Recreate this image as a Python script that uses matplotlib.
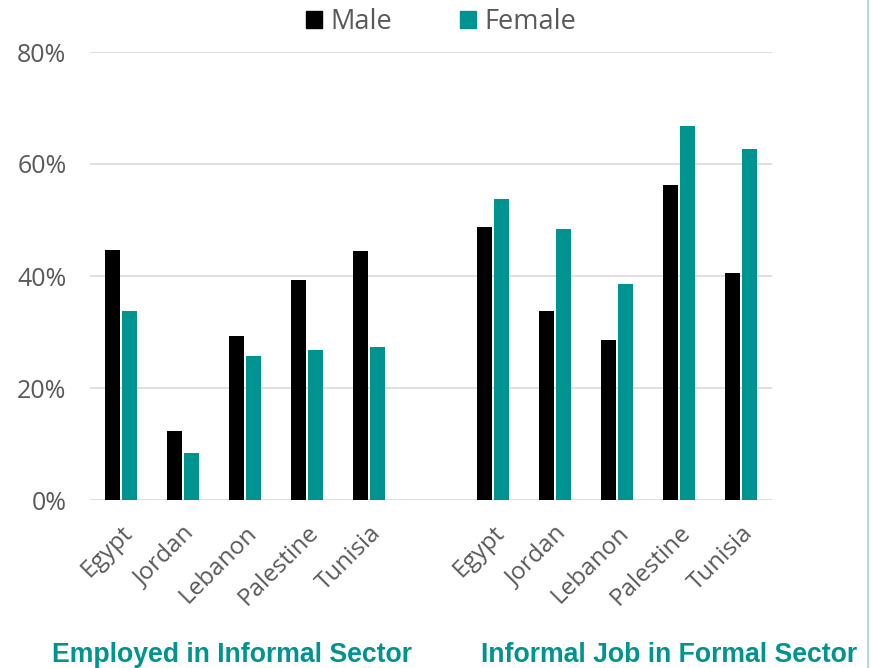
import matplotlib
matplotlib.use("Agg")
import matplotlib.pyplot as plt
from matplotlib.patches import Rectangle
from matplotlib.lines import Line2D
import numpy as np

countries = ["Egypt", "Jordan", "Lebanon", "Palestine", "Tunisia"]
groups = ["Employed in Informal Sector", "Informal Job in Formal Sector"]
male_informal_sector = [44.6, 12.3, 29.2, 39.2, 44.4]
female_informal_sector = [33.8, 8.4, 25.7, 26.7, 27.4]
male_formal_sector = [48.7, 33.8, 28.6, 56.2, 40.5]
female_formal_sector = [53.7, 48.4, 38.6, 66.7, 62.6]
yticks = [0, 20, 40, 60, 80]
ytick_labels = ["0%", "20%", "40%", "60%", "80%"]

TEAL = "#009490"
GRAY = "#595959"
W, H = 871, 668

fig = plt.figure(figsize=(W / 100, H / 100), dpi=100)
ax = fig.add_axes([90 / W, 1 - 500 / H, (772 - 90) / W, (500 - 52) / H])

n = len(countries)
x_left = np.arange(n)
x_right = np.arange(n) + n + 1
x_all = np.concatenate([x_left, x_right])
male = np.array(male_informal_sector + male_formal_sector)
female = np.array(female_informal_sector + female_formal_sector)

bw = 0.245
off = 0.14
ax.bar(x_all - off, male, width=bw, color="black", linewidth=0, zorder=3)
ax.bar(x_all + off, female, width=bw, color=TEAL, linewidth=0, zorder=3)

ax.set_xlim(-0.5, 2 * n + 0.5)
ax.set_ylim(0, 80)
ax.set_yticks(yticks)
ax.set_yticklabels(ytick_labels, fontfamily="Open Sans", fontsize=18, color=GRAY)
ax.yaxis.grid(True, color="#d9d9d9", linewidth=1.2, zorder=0)
ax.set_axisbelow(True)
for s in ax.spines.values():
    s.set_visible(False)
ax.tick_params(axis="y", length=0, pad=17)
ax.tick_params(axis="x", length=0, pad=15)

ax.set_xticks(x_all)
ax.set_xticklabels(countries + countries, rotation=45, ha="right",
                   rotation_mode="anchor", fontfamily="Open Sans",
                   fontsize=17.5, color=GRAY)

# group labels
for xc, g in zip([232, 669.5], groups):
    fig.text(xc / W, 1 - 655 / H, g, ha="center", va="center",
             fontfamily="Liberation Sans", fontweight="bold", fontsize=19.2,
             color=TEAL)

handles = [Rectangle((0, 0), 1, 1, color="black"), Rectangle((0, 0), 1, 1, color=TEAL)]
leg = fig.legend(handles, ["Male", "Female"], loc="center",
                 bbox_to_anchor=(441 / W, 1 - 22 / H), ncol=2, frameon=False,
                 prop={"family": "Open Sans", "size": 19.5},
                 handlelength=0.6, handleheight=0.6, handletextpad=0.3,
                 columnspacing=2.5)
for t in leg.get_texts():
    t.set_color(GRAY)

fig.add_artist(Line2D([868 / W, 868 / W], [0, 1], transform=fig.transFigure,
                      color="#9fd6d6", linewidth=1.2))

fig.savefig("out.png", dpi=100)
